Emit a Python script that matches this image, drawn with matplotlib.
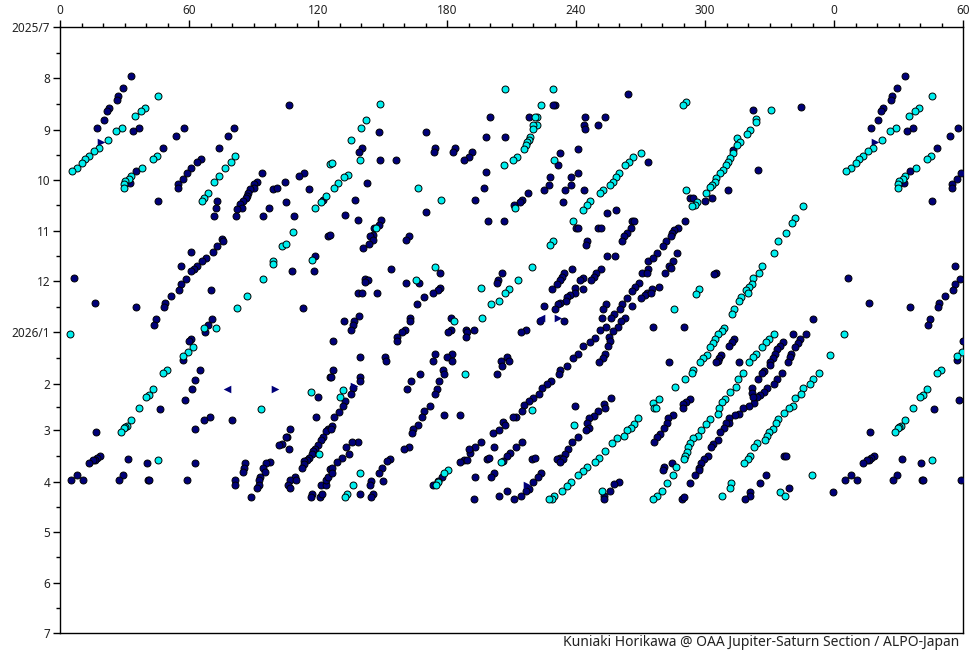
import matplotlib
matplotlib.use("Agg")
import matplotlib.pyplot as plt

plt.rcParams['font.family'] = ['Noto Sans', 'DejaVu Sans']

x_major = list(range(0, 421, 60))
x_labels = ['0', '60', '120', '180', '240', '300', '0', '60']
x_minor = list(range(0, 421, 10))
month_days = [0, 31, 62, 92, 123, 153, 184, 215, 243, 274, 304, 335, 365]
month_labels = ['2025/7', '8', '9', '10', '11', '12', '2026/1', '2', '3', '4', '5', '6', '7']
credit = 'Kuniaki Horikawa @ OAA Jupiter-Saturn Section / ALPO-Japan'

# (System longitude in degrees, days since 2025-07-01)
dark_spots_a = [
(33.2,29.4),(29.5,36.6),(27.1,41.6),(26.7,43.9),(22.9,48.5),(21.9,50.5),(20.6,55.9),(17.4,60.8),(36.9,60.8),(34.1,62.6),
(57.8,60.8),(54.1,65.6),(48.1,72.8),(81.1,60.8),(78.3,65.6),(74.1,72.8),(65.7,79.5),(63.9,81.3),(61.1,84.9),(59.2,87.9),
(57.4,91.5),(55,94.6),(55,97),(35.5,86.7),(32.7,94),(45.7,104.8),(94.1,87.9),(91.8,93.4),(90.4,94.6),(90.4,97),(88.5,97.6),
(87.6,100),(87.1,101.8),(86.7,103),(85.3,104.6),(83.7,106.6),(84.7,109),(82.3,109.7),(73.2,104.8),(72.7,109),(71.8,113.9),
(82,113.9),(94.6,113.9),(97.4,109),(99.2,97.6),(101,97),(104.8,93.4),(105.3,105.4),(109,113.9),(113.6,87.9),(111.3,89.7),
(116,97.6),(122.2,104.2),(106.7,46.9),(75.5,127.8),(76,129),(73.2,132),(71.3,135.6),(61.1,135.6),(68.1,139.4),(66,141),
(124.8,126),(118.8,138),
]
dark_spots_b = [
(264.4,40.6),(230.3,47.2),(229.5,47.2),(200.2,54.4),(218.3,54.4),(244.4,54.4),(253.7,54.4),(243.9,59.3),(250.4,59.3),(244.4,61.7),
(148.5,63.5),(170.4,63.5),(198.3,66.5),(207.2,66.5),(140.6,73.1),(139.2,75.5),(174.6,73.1),(174.1,75.5),(183.9,73.1),(183,75.5),
(191.8,75.5),(190.4,78.5),(188.1,80.3),(149,80.3),(156.5,80.3),(232.7,76.1),(241.1,73.7),(231.8,83.4),(273.7,81.5),(198.3,87.6),
(241.1,88.2),(228.1,90.6),(237.8,90.6),(143,94.2),(227.6,95.4),(237.8,95.4),(225.3,98.4),(235,98.4),(243.9,98.4),(197.4,97.2),
(217.9,100.2),(193.2,104.4),(137.4,104.4),(215,104.4),(214.1,105.7),(211.3,107.5),(234.1,105.7),(132.7,113.5),(138.8,116.5),
(170.4,111.7),(199.2,117.1),(206.7,117.1),(254.6,112.3),(258.8,110.5),(149.5,116.5),(148.5,119.5),(146.2,121.3),(145.8,125.5),
(144.4,126.1),(145.8,128.5),(143.9,131),(141.1,133.4),(125.6,125.5),(162.5,126.1),(161.1,128.5),(266.2,117.1),(267.1,117.1),
(265.8,121.3),(263.9,124.3),(262.5,126.1),(261.6,129.1),(240.2,121.3),(240.7,121.3),(250,121.3),(251.8,121.3),(245.3,129.1),
(244.8,131.5),(254.6,138.2),(258.3,138.2),(273.4,141.2),(273.4,146),(154.1,146),(176.9,148.4),(205.8,148.4),(238.3,146),
(234.6,148.4),(251.8,146),(249.5,148.4),(270.9,148.4),
]
dark_spots_c = [
(322.5,50.2),(344.8,48.4),(324.8,86.4),(310.8,98.4),(303.4,103.2),(300.1,105),(293.2,103.2),(294.6,103.2),(290.8,117.1),(287.6,121.3),
(285.7,122.5),(284.5,124.3),(284.3,126.1),(282,129.1),(280.6,132.1),(277.8,136.4),(275.9,139.4),(286.8,136.4),(285.3,141.2),
(283.4,144.2),(284.3,145.4),(281.5,148.4),(305.3,148.4),(304.3,149),(313.2,74.1),
]
dark_spots_d = [
(6.7,151.4),(16.4,166.5),(35.5,168.9),(56.4,144.2),(63.9,144.2),(62.5,146),(61.1,147.2),(58.6,152),(56.4,155),(55.5,158.7),
(51.8,162.3),(49,166.5),(48.5,168.9),(70.4,158.7),(44.8,176.1),(43.9,179.2),(70.9,176.1),(69,179.2),(67.6,184),(61.1,188.2),
(60.2,189.4),(57.4,200.8),(65.3,206.3),(62.9,212.9),(61.6,218.3),(58.3,224.9),(46.7,229.8),(69.9,235.2),(67.1,237),(62.9,242.4),
(16.9,244.2),(18.8,258.1),(17.4,259.3),(16.4,260.5),(15.5,261.1),(13.6,262.9),(31.8,259.9),(40.6,262.9),(62.9,262.9),(29.5,270.1),
(27.6,273.1),(8.1,270.1),(5.3,273.1),(10.9,273.1),(41.1,273.1),(41.6,273.1),(59.2,273.1),(80.2,237),(108.1,147.2),(118.3,147.2),
(113.2,169.5),(120.2,223.1),(119.2,235.2),(125.7,211.1),(107.1,242.4),(105.7,247.2),(105.3,247.2),(103.4,251.4),(102,252),
(106.7,253.9),(124.8,242.4),(123.9,243.6),(122.5,247.2),(121.6,249),(120.2,252),(118.8,253.9),(117.8,255.1),(117.4,256.9),
(116,259.3),(115,260.5),(113.6,261.7),(113.6,263.5),(112.7,265.9),(86.2,262.9),(85.7,265.9),(85.3,268.3),(97.8,262.3),(96,262.9),
(94.6,265.9),(95.5,268.3),(93.2,271.3),(92.7,273.1),(92.7,276.1),(91.8,277.9),(89,282.8),(81.6,273.1),(81.6,276.1),(109.5,271.3),
(107.1,273.1),(109.9,273.1),(106.2,276.1),(107.1,277.9),(117.4,281),(116.9,282.8),(121.1,282.8),(122,281),(121.6,276.1),(123.9,276.1),
(123.9,273.1),(124.8,271.3),(125.7,266.5),
]
dark_spots_e = [
(142,152),(143.3,152.4),(142,153.7),(161.1,153.9),(167.1,153.9),(203.9,152.6),(203.4,153.9),(138.8,160.5),(140.6,160.5),(147.6,160.5),
(176.9,157.5),(176,158.7),(173.7,160.5),(169.5,162.9),(166.2,167.1),(243.4,151.4),(242,152.6),(248.5,150.8),(247.2,152.6),
(233.7,150.8),(232.7,152.6),(231.3,155),(229,158.1),(243.4,158.1),(239.7,157.5),(239.7,160.5),(237.2,161.7),(235.8,162.9),(235.5,165.3),
(232.6,166.5),(231.6,167.1),(230.4,170.1),(225.3,168.3),(223.4,177.3),(234.6,177.3),(273.2,148.4),(269.5,153.9),(267.6,156.3),
(266.2,159.3),(263.9,163.5),(273.2,160.5),(272.3,161.7),(270,163.5),(261.6,167.1),(260.6,170.1),(266.2,168.3),(254.1,167.1),(252.7,170.1),
(257.8,173.1),(256.5,175.5),(254.1,180.4),(263,175),(261.1,177.3),(259.7,180.4),(257.4,183.4),(255.5,187),(256,189.4),(255,192.4),
(252.3,175),(251,182.2),(249,187.6),(246.7,190),(243.4,192.4),(253.7,197.2),(252.7,199.6),(250.9,202),(241.1,197.2),(238.8,199.6),
(236,203.9),(232.7,206.3),(232.3,209.3),(228.5,213.5),(226.7,215.3),(224.4,217.7),(223,221.3),(220.2,223.7),(218.3,225.5),(216,227.9),
(215,231),(212.3,235.2),(210.9,235.2),(206.2,238.2),(207.2,240),(204.4,243),(201.6,244.8),(196,250.2),(193.2,253.2),(190.9,256.3),
(190.4,253.9),(188.1,260.5),(186.2,262.3),(189.5,261.1),(202,253.2),(198.8,259.9),(199.7,259.3),(215,250.2),(212.3,253.2),(209.5,256.3),
(208.1,258.1),(206.2,261.7),(219.7,259.9),(221.1,259.3),(193.2,271.3),(202,268.9),(200.6,271.3),(223.9,268.9),(222.5,271.3),(220.2,274.3),
(218.3,278),(216.9,279.2),(214.6,282.2),(211.3,284),(208.1,279.2),(204.4,282.2),(192.7,284),
]
dark_spots_f = [
(256.1,223.7),(253.2,227.3),(253.7,229.2),(250.4,231),(248.5,234),(246.2,235.8),(245.3,238.8),(246.2,241.8),(244.8,243),(241.1,247.2),
(238.3,250.2),(236.5,253.9),(235,256.9),(232.7,259.3),(231.3,259.9),(234.1,259.9),(232.7,262.3),(239.7,228),(259.9,274.3),(257.9,275.5),
(256,279.2),(253.2,282.2),(253.2,284),(139.2,174.3),(136.9,177.3),(136.4,179.2),(135.5,182.2),(132.3,177.3),(163,175),(163,177.3),
(160.6,182.2),(159.2,184),(156.9,187),(156.9,189.4),(182,175),(182,182.2),(180.6,184),(189,182.2),(189.5,184),(189,187),(192.7,182.2),
(216.9,182.2),(214.6,184),(126.8,189.4),(139.7,199),(151.3,199),(151.8,201.4),(174.6,197.2),(173.7,201.4),(182.5,197.2),(180.2,199),
(182.5,201.4),(208.1,199),(205.3,201.4),(209,201.4),(205.8,203.9),(178.3,206.3),(178.8,209.3),(176.5,213.5),(175.5,218.3),(174.6,221.3),
(167.6,209.3),(163.4,213.5),(161.6,218.3),(203.4,209.3),(127.2,206.3),(126,211.1),(139.7,211.1),(139.7,213.5),(136.5,217.7),(135.5,221.3),
(132.7,225.5),(131.8,228),(129.9,231.6),(127.6,235.2),(126.4,240.6),(126,242.4),(172.3,228),(169.5,231),(168.5,235.2),(166.7,240),
(164.4,242.4),(163.9,244.8),(178.8,233.4),(186.2,233.4),(138.8,250.2),(136,250.2),(133.2,253.2),(134.6,256.9),(131.3,259.3),(129,262.3),
(126.4,265.9),(126.7,268.9),(162.5,253.2),(160.2,253.9),(153.7,259.9),(152.3,261.7),(149.9,265.9),(148.5,268.9),(150.4,273.7),(144.8,273.7),
(144.4,276.1),(145.8,281),(144.8,282.8),(139.7,281),(177.8,271.3),(176,273.7),(173.7,276.1),
]
dark_spots_g = [
(278.7,156.3),(275.5,158.1),(274.7,160.5),(275.6,180.4),(290.4,180.4),(350.4,176.1),(347.1,185.2),(341.1,185.2),(283.4,202),(315.9,202),
(313.6,188.2),(312.7,190),(311.3,192.4),(307.6,197.8),(306.6,199.6),(306.2,201.4),(305.3,202),(336.4,190),(335,192.4),(333.6,194.2),
(332.7,197.2),(331.8,199.6),(330.4,202),(330.4,203.3),(344.3,188.2),(343.4,190.6),(342,193),(340.1,197.2),(339.7,199),(338.7,202),
(327.6,206.9),(326.6,208.7),(324.8,212.3),(336,208.7),(333.6,212.3),(332.2,215.3),(329,217.7),(327.6,220.1),(325.7,221.9),(324.3,223.1),
(322.9,226.7),(320.6,228),(317.8,229.2),(322,217.7),(322,220.7),(322.5,223.1),(316,232.8),(314.1,233.4),(311.3,235.8),(311.3,238.8),
(309.9,238.8),(309,241.8),(307.1,244.2),(306.2,249),(303.9,251.4),(302.9,253.2),(301.5,258.1),(299.7,259.9),(298.3,262.9),(297.4,265.9),
(297.4,267.1),(295.5,270.1),(293.2,274.9),(293.2,224.3),(291.3,226.1),(289.9,227.3),(289.9,229.2),(285.3,233.4),(282.9,235.8),(282.5,238.8),
(281,241.8),(279.2,245.4),(277.8,247.2),(276.4,250.2),(284.5,262.9),(281.1,265.3),(280.6,267.1),(336.9,258.1),(337.5,258.1),(328.5,270.1),
(325.7,274.9),(339.2,277.4),(321.1,279.8),(321.1,282.2),(318.7,284),(289.4,284),(290.4,282.8),(359.7,279.8),
]
cyan_spots_a = [
(45.7,41.4),(39.7,48.7),(37.8,50.5),(35,53.5),(29,60.8),(26.2,62.6),(22.5,68),(18.3,72.8),(16,74.6),(13.6,77.7),(11.8,79.5),(10.4,81.9),
(8.1,84.9),(5.7,86.7),(45,77.7),(43.4,79.5),(38.3,84.9),(33.2,89.7),(32.1,91.5),(30.4,92.8),(29.9,94.6),(29.9,97),(81.6,77.7),(79.7,81.3),
(76.9,84.9),(74.1,89.7),(71.8,93.4),(69,100),(67.1,103),(66.2,104.8),(99.2,141),(99.2,143),(103.4,132),(105.3,130.8),(108.5,123.5),
(117.4,140.5),(118.8,109),(121.6,105.4),(123.9,101.8),(125.7,82.5),
]
cyan_spots_b = [
(149,46.6),(142.5,56.2),(140.2,61.1),(135.2,68.3),(126.4,82.2),(139.7,80.3),(133.8,89.4),(132.3,90.6),(129.5,94.2),(127.6,97.2),(166.7,97.2),
(177.4,104.4),(147.2,121.3),(207.2,37.6),(229.5,37.6),(223.9,47.2),(222,54.4),(221.1,54.4),(221.7,59.3),(220.2,59.3),(220.2,61.7),(218.8,66.5),
(218.3,68.3),(217.4,69.5),(216.9,71.3),(216,73.7),(212.7,78.5),(210.9,80.3),(206.7,83.4),(229.9,80.3),(211.8,109.3),(270.4,76.1),(266.7,78.5),
(264.8,81.5),(263,83.4),(260.2,88.2),(258.8,90.6),(257.4,93.6),(256,95.4),(252.7,98.4),(251.3,100.2),(246.7,105),(245.1,107.5),(243.4,110.5),
(238.8,117.1),(229.5,129.1),(228.1,131.5),(174.6,144.8),(219.7,144.8),(165.8,152.6),
]
cyan_spots_c = [
(291,45.4),(289.6,47.2),(330.8,50.2),(323.9,55.6),(323.9,57.5),(321.1,62.3),(319.7,64.7),(315,67.1),(316.4,69.5),(315,71.3),(313.2,76.1),
(311.8,79.1),(310.8,81.5),(309.9,83.4),(308.5,86.4),(307.1,88.2),(305.3,91.2),(304.8,93.6),(303.4,95.4),(302.5,96.6),(300.6,100.2),(291.3,98.4),
(296.4,105.6),(295.5,107.5),(294.1,108.1),(345.7,108.1),(342,115.3),(340.6,118.3),(337.8,124.3),(334.1,129.1),(332.2,136.4),(326.6,144.2),
(325.3,148.4),(322.5,151.4),
]
cyan_spots_d = [
(4.8,185.2),(94.6,152),(87.1,162.3),(82.5,169.5),(67.1,181),(72.7,181),(62,193),(59.7,196),(57.4,198.4),(49.9,206.3),(48.1,208.7),(43.4,218.3),
(41.6,221.9),(40.2,223.1),(36.9,229.2),(33.2,237),(31.3,240.6),(30.4,241.2),(29.9,241.8),(28.5,244.2),(45.7,261.1),(93.6,229.8),(116.9,220.1),
(120.6,256.9),
]
cyan_spots_e = [
(213.2,152.6),(196,157.5),(209,158.1),(207.2,160.5),(204.4,165.3),(200.6,167.1),(196.5,175),(183.4,177.3),(188.5,209.3),(131.8,218.9),(130.4,223.1),
(219.7,230.4),(239.2,240),(180.6,267.1),(178.8,268.9),(176,274.3),(175,276.1),(139.7,268.9),(136.5,276.1),(133.7,281),(132.7,282.8),(205.3,262.3),
(269,235.8),(267.1,239.4),(265.8,241.8),(263.9,243),(262.5,246.6),(259.2,247.8),(256.9,250.8),(253.7,255.1),(250.9,259.3),(249,262.3),(245.3,265.3),
(243.4,267.7),(241.1,270.1),(237.8,274.3),(236,276.7),(233.7,279.2),(229.9,282.2),(229,284),(227.6,284),(252.3,279.2),
]
cyan_spots_f = [
(322,154.5),(320.6,156.3),(319.2,158.7),(320.1,160.5),(316.9,162.9),(316,165.3),(313.6,170.1),(312.7,173.1),(297.3,158.1),(295.9,161.1),(285.7,170.1),
(358.3,197.8),(332.2,185.2),(329.9,188.2),(328.5,190),(326.6,193),(323.9,197.2),(322.5,199),(320.6,202),(309,181),(308,183.4),(306.2,185.2),
(304.8,188.2),(303.9,190.6),(302.5,193),(301.1,197.8),(299.2,199.6),(297.8,202),(294.6,206.3),(294.1,208.7),(290.8,212.3),(286.2,217.1),(317.8,208.7),
(315.5,212.3),(314.6,217.1),(311.8,220.1),(309.4,224.3),(308,226.1),(306.6,229.2),(306.2,232.8),(353.2,208.7),(350.4,212.3),(349,215.3),(345.7,217.7),
(344.8,221.3),(342,223.7),(341.1,228),(339.2,229.2),(336.9,232.2),(334.1,236.4),(333.2,238.8),(331.8,242.4),(329.9,244.2),(329,246.6),(328,249),
(324.3,250.8),(322.9,253.2),(321.1,258.1),(320.1,259.9),(318.3,262.9),(278.7,224.3),(275.9,226.7),(276.4,229.2),(277.3,229.2),(302.5,236.4),(300.6,239.4),
(298.3,243),(296.9,246.6),(294.6,247.8),(293.2,250.8),(292.2,253.2),(291.8,255.7),(290.8,258.1),(290.4,259.9),(286.6,265.3),(285.3,270.1),(282.5,274.9),
(280.1,279.2),(277.8,282.2),(275.9,284),(312.2,274.9),(311.8,277.4),(308,282.2),(335,279.8),(337.3,282.2),(349.9,270.1),
]
right_marks = [(18.9,69.4),(100,218.3),(231.6,175),(136.8,216.3),(217,276)]
left_marks = [(77.8,218.3),(223.6,175)]

dark_spots = dark_spots_a + dark_spots_b + dark_spots_c + dark_spots_d + dark_spots_e + dark_spots_f + dark_spots_g
cyan_spots = cyan_spots_a + cyan_spots_b + cyan_spots_c + cyan_spots_d + cyan_spots_e + cyan_spots_f


def wrapped(points):
    """Repeat the first 60 degrees after 360, as the longitude axis does."""
    extra = [(lon + 360, day) for lon, day in points if lon <= 60.3]
    all_points = points + extra
    return [p[0] for p in all_points], [p[1] for p in all_points]


W, H = 980, 650
fig = plt.figure(figsize=(W / 100, H / 100), dpi=100, facecolor='white')
ax = fig.add_axes([60 / W, 1 - 633 / H, (963 - 60) / W, (633 - 27) / H])
ax.set_xlim(0, 420)
ax.set_ylim(365, 0)

edge = '#000000'
mx, my = wrapped(dark_spots)
ax.scatter(mx, my, s=25, c='#000078', edgecolors=edge, linewidths=0.7, zorder=3)
mx, my = wrapped(cyan_spots)
ax.scatter(mx, my, s=25, c='#00EEEE', edgecolors=edge, linewidths=0.7, zorder=4)
mx, my = wrapped(right_marks)
ax.scatter(mx, my, s=30, c='#000078', marker='>', linewidths=0, zorder=3)
mx, my = wrapped(left_marks)
ax.scatter(mx, my, s=30, c='#000078', marker='<', linewidths=0, zorder=3)

ax.xaxis.tick_top()
ax.set_xticks(x_major)
ax.set_xticklabels(x_labels, fontsize=8.5, color='#222222')
ax.set_xticks(x_minor, minor=True)
ax.set_yticks(month_days)
ax.set_yticklabels(month_labels, fontsize=8.5, color='#222222')
ax.set_yticks([(a + b) / 2 for a, b in zip(month_days[:-1], month_days[1:])], minor=True)
ax.tick_params(axis='both', which='major', length=5, width=1, pad=2)
ax.tick_params(axis='both', which='minor', length=3, width=1)
for s in ax.spines.values():
    s.set_linewidth(1.0)
fig.text(959 / W, 1 - 642 / H, credit, ha='right', va='center', fontsize=10, color='#222222')

fig.savefig('out.png', dpi=100)
